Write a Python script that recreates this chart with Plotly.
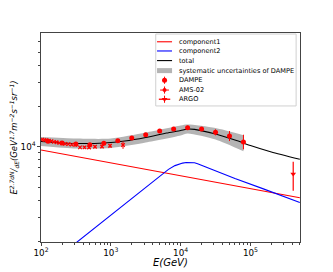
import plotly.graph_objects as go

# ---------------- data ----------------
comp1_E = [100, 1000, 10000, 100000, 510000]
comp1_F = [9460, 7595, 6097, 4895, 4190]

comp2_E = [300, 1000, 3000, 6700, 8300, 9500, 10700, 12000, 13000, 14500, 15800, 17500, 20000, 28000, 60000, 150000, 510000]
comp2_F = [1900, 3130, 4950, 6800, 7250, 7450, 7570, 7640, 7660, 7660, 7620, 7480, 7280, 6710, 5820, 4900, 3870]

total_E = [100, 200, 398, 794, 1585, 3162, 6310, 10000, 12590, 15850, 31620, 63100, 100000, 199500, 510000]
total_F = [10930, 10650, 10560, 10650, 11020, 11700, 12630, 13180, 13530, 13450, 12420, 11120, 10200, 9140, 8070]

band_E = [100, 316, 1000, 3162, 10000, 12590, 31620, 79430]
band_hi = [11800, 11500, 11500, 12740, 14360, 14600, 13760, 12150]
band_lo = [10120, 9700, 9780, 10740, 12110, 12530, 11310, 9250]

dampe_E = [126, 200, 316, 501, 794, 1259, 1995, 3162, 5012, 7943, 12589, 19953, 31623, 50119, 79433]
dampe_F = [10965, 10650, 10470, 10345, 10600, 11080, 11600, 12270, 13070, 13525, 13825, 13525, 12785, 12000, 10835]
dampe_up = [250, 250, 250, 250, 260, 280, 300, 330, 380, 420, 480, 470, 670, 1070, 1440]
dampe_dn = [240, 240, 240, 240, 250, 270, 290, 320, 360, 400, 460, 450, 640, 980, 1270]

ams_E = [104, 112, 120, 130, 141, 153, 167, 183, 201, 222, 246, 275, 310, 362, 420, 488, 594, 748, 975, 1496]
ams_F = [11300, 11240, 11180, 11070, 11000, 10870, 10790, 10680, 10610, 10500, 10450, 10370, 10340,
         9900, 9900, 9870, 10000, 10040, 10170, 10300]
ams_err = [100, 100, 100, 100, 100, 100, 100, 100, 100, 100, 110, 110, 120, 150, 180, 200, 250, 300, 350, 650]

argo_E = [410000]
argo_F = [6290]
argo_up = [1450]
argo_dn = [1570]

legend_labels = ["component1", "component2", "total", "systematic uncertainties of DAMPE",
                 "DAMPE", "AMS-02", "ARGO"]

FONT = "DejaVu Sans"
RED = "#ff0000"
BLUE = "#0000ff"
GRAY = "rgb(180,180,180)"

fig = go.Figure()

# systematic band
fig.add_trace(go.Scatter(x=band_E, y=band_lo, mode="lines", line=dict(width=0, shape="spline", smoothing=0.7, color=GRAY),
                         showlegend=False, hoverinfo="skip"))
fig.add_trace(go.Scatter(x=band_E, y=band_hi, mode="lines", line=dict(width=0, shape="spline", smoothing=0.7, color=GRAY),
                         fill="tonexty", fillcolor=GRAY, showlegend=False, hoverinfo="skip"))

fig.add_trace(go.Scatter(x=comp1_E, y=comp1_F, mode="lines", line=dict(color=RED, width=1.1), showlegend=False))
fig.add_trace(go.Scatter(x=comp2_E, y=comp2_F, mode="lines", line=dict(color=BLUE, width=1.1), showlegend=False))
fig.add_trace(go.Scatter(x=total_E, y=total_F, mode="lines", line=dict(color="black", width=1.1, shape="spline", smoothing=0.6), showlegend=False))

fig.add_trace(go.Scatter(x=ams_E, y=ams_F, mode="markers",
                         marker=dict(symbol="x-thin", size=3.5, line=dict(color=RED, width=1.2), color=RED),
                         error_y=dict(type="data", array=ams_err, color=RED, thickness=1, width=0),
                         showlegend=False))
fig.add_trace(go.Scatter(x=dampe_E, y=dampe_F, mode="markers",
                         marker=dict(symbol="circle", size=5, color=RED),
                         error_y=dict(type="data", array=dampe_up, arrayminus=dampe_dn, color=RED, thickness=1, width=0),
                         showlegend=False))
fig.add_trace(go.Scatter(x=argo_E, y=argo_F, mode="markers",
                         marker=dict(symbol="triangle-down", size=5, color=RED),
                         error_y=dict(type="data", array=argo_up, arrayminus=argo_dn, color=RED, thickness=1.2, width=0),
                         showlegend=False))

# ---------------- manual legend (paper / overlay coordinates) ----------------
rows = [0.958, 0.914, 0.868, 0.820, 0.774, 0.727, 0.683]
sx0, sx1, sxc, tx = 0.448, 0.506, 0.477, 0.526

shapes = [dict(type="rect", xref="paper", yref="paper", x0=0.443, x1=0.985, y0=0.651, y1=0.995,
               line=dict(color="#d0d0d0", width=1), fillcolor="white", layer="below"),
          dict(type="rect", xref="paper", yref="paper", x0=sx0, x1=sx1, y0=rows[3] - 0.012, y1=rows[3] + 0.012,
               line=dict(width=0), fillcolor=GRAY, layer="below")]

for col, yy in zip([RED, BLUE, "black"], rows[:3]):
    fig.add_trace(go.Scatter(x=[sx0, sx1], y=[yy, yy], xaxis="x2", yaxis="y2", mode="lines",
                             line=dict(color=col, width=1.1), showlegend=False, hoverinfo="skip"))
fig.add_trace(go.Scatter(x=[sxc], y=[rows[4]], xaxis="x2", yaxis="y2", mode="markers",
                         marker=dict(symbol="circle", size=5, color=RED),
                         error_y=dict(type="constant", value=0.017, color=RED, thickness=1, width=0),
                         showlegend=False, hoverinfo="skip"))
fig.add_trace(go.Scatter(x=[sxc], y=[rows[5]], xaxis="x2", yaxis="y2", mode="markers",
                         marker=dict(symbol="circle", size=4, color=RED),
                         error_y=dict(type="constant", value=0.017, color=RED, thickness=1, width=0),
                         error_x=dict(type="constant", value=0.017, color=RED, thickness=1, width=0),
                         showlegend=False, hoverinfo="skip"))
fig.add_trace(go.Scatter(x=[sxc], y=[rows[6]], xaxis="x2", yaxis="y2", mode="markers",
                         marker=dict(symbol="triangle-down", size=5, color=RED),
                         error_y=dict(type="constant", value=0.017, color=RED, thickness=1, width=0),
                         error_x=dict(type="constant", value=0.022, color=RED, thickness=1.3, width=0),
                         showlegend=False, hoverinfo="skip"))

annotations = [dict(x=tx, y=yy, xref="paper", yref="paper", text=t, showarrow=False, xanchor="left",
                    yanchor="middle", font=dict(family=FONT, size=6.6, color="black"))
               for t, yy in zip(legend_labels, rows)]

# axis titles as annotations for exact placement
annotations.append(dict(x=0.5, y=-0.098, xref="paper", yref="paper", text="<i>E(GeV)</i>", showarrow=False,
                        xanchor="center", yanchor="middle", font=dict(family=FONT, size=10, color="black")))
annotations.append(dict(x=-0.108, y=0.5, xref="paper", yref="paper", textangle=-90, showarrow=False,
                        text="<i>E<sup>2.7</sup><sup>dN</sup>/<sub>dE</sub>(GeV<sup>1.7</sup>m<sup>−2</sup>s<sup>−1</sup>sr<sup>−1</sup>)</i>",
                        xanchor="center", yanchor="middle", font=dict(family=FONT, size=8.5, color="black")))

axis_common = dict(showline=True, linecolor="#444444", linewidth=1, mirror=True, showgrid=False,
                   zeroline=False, ticks="outside", ticklen=3, tickcolor="#444444",
                   tickfont=dict(family=FONT, size=7, color="black"),
                   exponentformat="power", showexponent="all", automargin=False)

# page body has an 8px margin, so the figure is 8px smaller than the window
fig.update_layout(
    width=325, height=264,
    margin=dict(l=33, r=33, t=25, b=30, autoexpand=False),
    paper_bgcolor="white", plot_bgcolor="white",
    showlegend=False,
    xaxis=dict(type="log", range=[2, 5.71], dtick=1,
               minor=dict(ticks="outside", ticklen=1.8, tickcolor="#444444", showgrid=False),
               **axis_common),
    yaxis=dict(type="log", range=[3.295, 4.842], dtick=1,
               minor=dict(ticks="outside", ticklen=1.8, tickcolor="#444444", showgrid=False),
               **axis_common),
    xaxis2=dict(overlaying="x", range=[0, 1], visible=False, anchor="y2"),
    yaxis2=dict(overlaying="y", range=[0, 1], visible=False, anchor="x2"),
    shapes=shapes,
    annotations=annotations,
)

fig.write_html("out.html")
